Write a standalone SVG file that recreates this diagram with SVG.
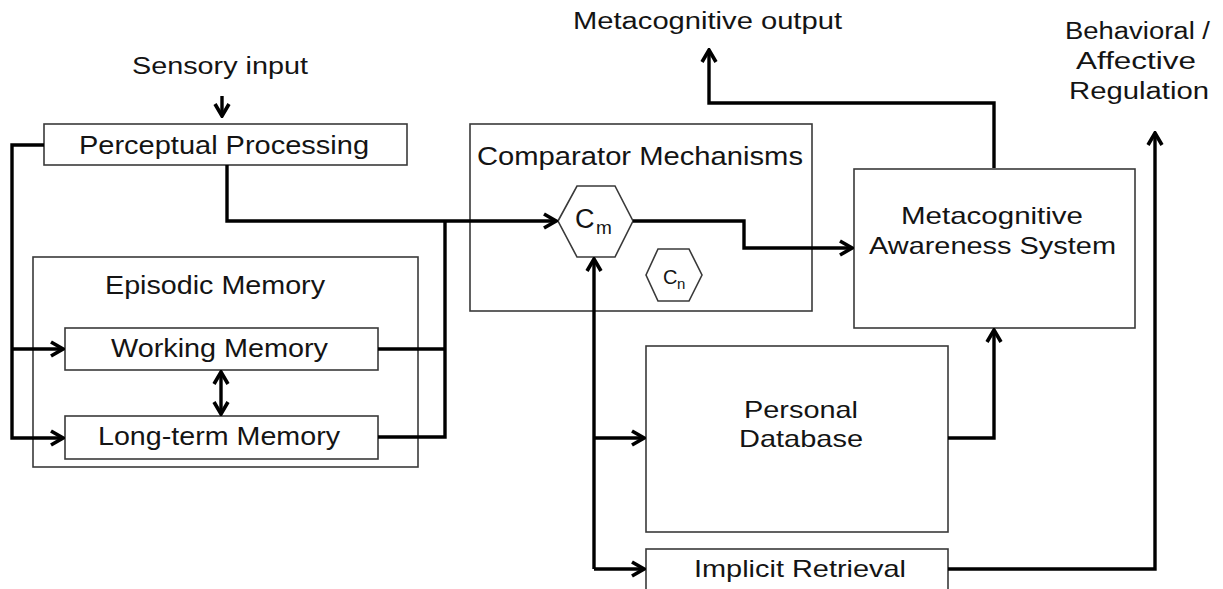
<svg xmlns="http://www.w3.org/2000/svg" width="1223" height="589" viewBox="0 0 1223 589">
<defs>
<style>
.box{fill:#fff;stroke:#3a3a3a;stroke-width:1.6}
.t{font-family:"Liberation Sans",Arial,sans-serif;fill:#141414}
.c{fill:none;stroke:#000;stroke-width:3.4;stroke-linejoin:miter}
</style>
<marker id="ah" viewBox="-14 -9 16 18" refX="0" refY="0" markerWidth="16" markerHeight="18" markerUnits="userSpaceOnUse" orient="auto-start-reverse">
<path d="M-12,-7 L0,0 L-12,7" fill="none" stroke="#000" stroke-width="3.6"/>
</marker>
</defs>
<rect width="1223" height="589" fill="#fff"/>

<g id="sensory-input">
<text class="t" x="132" y="74" font-size="23" textLength="176" lengthAdjust="spacingAndGlyphs">Sensory input</text>
</g>
<g id="metacognitive-output">
<text class="t" x="573" y="29" font-size="23" textLength="269" lengthAdjust="spacingAndGlyphs">Metacognitive output</text>
</g>
<g id="behavioral-regulation">
<text class="t" x="1065" y="39" font-size="23" textLength="145" lengthAdjust="spacingAndGlyphs">Behavioral /</text>
<text class="t" x="1076" y="69" font-size="23" textLength="120" lengthAdjust="spacingAndGlyphs">Affective</text>
<text class="t" x="1069" y="99" font-size="23" textLength="140" lengthAdjust="spacingAndGlyphs">Regulation</text>
</g>

<g id="episodic-memory">
<rect class="box" x="33" y="257" width="385" height="210"/>
<text class="t" x="105" y="294" font-size="25" textLength="220" lengthAdjust="spacingAndGlyphs">Episodic Memory</text>
</g>
<g id="perceptual-processing">
<rect class="box" x="44" y="124" width="363" height="41"/>
<text class="t" x="79" y="154" font-size="26" textLength="290" lengthAdjust="spacingAndGlyphs">Perceptual Processing</text>
</g>
<g id="working-memory">
<rect class="box" x="65" y="328" width="313" height="42"/>
<text class="t" x="111" y="357" font-size="25" textLength="217" lengthAdjust="spacingAndGlyphs">Working Memory</text>
</g>
<g id="long-term-memory">
<rect class="box" x="65" y="416" width="313" height="43"/>
<text class="t" x="98" y="445" font-size="25" textLength="242" lengthAdjust="spacingAndGlyphs">Long-term Memory</text>
</g>
<g id="comparator-mechanisms">
<rect class="box" x="470" y="124" width="342" height="187"/>
<text class="t" x="477" y="165" font-size="25" textLength="326" lengthAdjust="spacingAndGlyphs">Comparator Mechanisms</text>
</g>
<g id="cm">
<polygon class="box" points="558,221 577,186 615,186 633,221 615,257 577,257"/>
<text class="t" x="575" y="228" font-size="27">C</text>
<text class="t" x="596" y="234" font-size="19">m</text>
</g>
<g id="cn">
<polygon class="box" points="646,275 658,249 689,249 702,275 689,301 658,301"/>
<text class="t" x="663" y="284" font-size="20">C</text>
<text class="t" x="677" y="289" font-size="15">n</text>
</g>
<g id="metacognitive-awareness-system">
<rect class="box" x="854" y="169" width="281" height="159"/>
<text class="t" x="901" y="224" font-size="24" textLength="182" lengthAdjust="spacingAndGlyphs">Metacognitive</text>
<text class="t" x="869" y="254" font-size="24" textLength="247" lengthAdjust="spacingAndGlyphs">Awareness System</text>
</g>
<g id="personal-database">
<rect class="box" x="646" y="346" width="302" height="186"/>
<text class="t" x="744" y="418" font-size="24" textLength="114" lengthAdjust="spacingAndGlyphs">Personal</text>
<text class="t" x="739" y="447" font-size="24" textLength="124" lengthAdjust="spacingAndGlyphs">Database</text>
</g>
<g id="implicit-retrieval">
<rect class="box" x="646" y="549" width="302" height="50"/>
<text class="t" x="694" y="577" font-size="24" textLength="212" lengthAdjust="spacingAndGlyphs">Implicit Retrieval</text>
</g>

<g id="connectors">
<path class="c" d="M222,96 L222,116" marker-end="url(#ah)"/>
<path class="c" d="M44,145 L12,145 L12,438 L63,438" marker-end="url(#ah)"/>
<path class="c" d="M12,349 L63,349" marker-end="url(#ah)"/>
<path class="c" d="M227,165 L227,221 L556,221" marker-end="url(#ah)"/>
<path class="c" d="M378,349 L445,349"/>
<path class="c" d="M378,437 L445,437 L445,221"/>
<path class="c" d="M221,372 L221,414" marker-start="url(#ah)" marker-end="url(#ah)"/>
<path class="c" d="M633,221 L744,221 L744,248 L852,248" marker-end="url(#ah)"/>
<path class="c" d="M994,168 L994,103 L709,103 L709,50" marker-end="url(#ah)"/>
<path class="c" d="M594,569 L594,259" marker-end="url(#ah)"/>
<path class="c" d="M594,438 L644,438" marker-end="url(#ah)"/>
<path class="c" d="M594,569 L644,569" marker-end="url(#ah)"/>
<path class="c" d="M948,438 L994,438 L994,330" marker-end="url(#ah)"/>
<path class="c" d="M948,569 L1155,569 L1155,133" marker-end="url(#ah)"/>
</g>
</svg>
